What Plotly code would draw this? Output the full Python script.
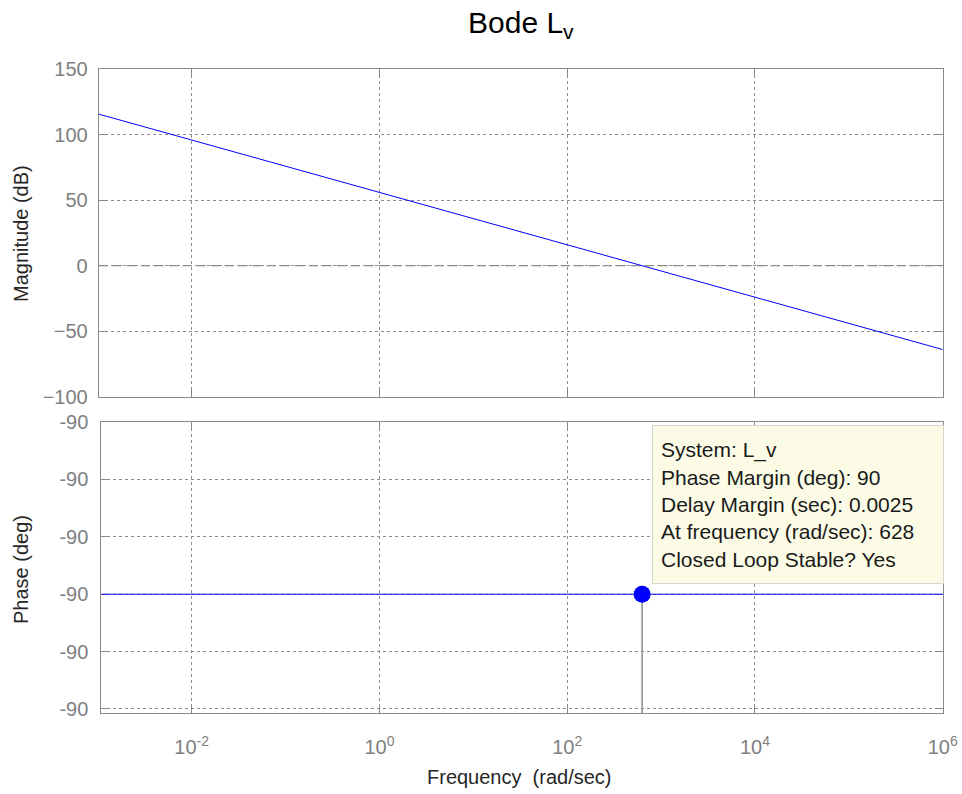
import plotly.graph_objects as go

# Open-loop frequency response of L_v, read at each decade
FREQ = [1e-3, 1e-2, 1e-1, 1e0, 1e1, 1e2, 1e3, 1e4, 1e5, 1e6]          # rad/sec
MAG_DB = [116, 96, 76, 56, 36, 16, -4, -24, -44, -64]                 # dB
PHASE_DEG = [-90, -90, -90, -90, -90, -90, -90, -90, -90, -90]        # deg

# Phase margin point
PM_FREQ = 628          # rad/sec
PM_PHASE = -90         # deg

# Axis ticks
FREQ_TICKS = [1e-2, 1e0, 1e2, 1e4, 1e6]
FREQ_TICK_TEXT = ["10<sup>-2</sup>", "10<sup>0</sup>", "10<sup>2</sup>",
                  "10<sup>4</sup>", "10<sup>6</sup>"]
MAG_TICKS = [-100, -50, 0, 50, 100, 150]
# the phase is flat, so its ticks sit a hair apart around -90
PHASE_STEP = 1e-11
PHASE_TICKS = [-90 + k * PHASE_STEP for k in (-2, -1, 0, 1, 2, 3)]
PHASE_TICK_TEXT = ["-90", "-90", "-90", "-90", "-90", "-90"]

TIP_LINES = [
    "System: L_v",
    "Phase Margin (deg): 90",
    "Delay Margin (sec): 0.0025",
    "At frequency (rad/sec): 628",
    "Closed Loop Stable? Yes",
]

W, H = 962, 794
FONT = "Liberation Sans, Arial, sans-serif"
AXIS_GREY = "#8a8a8a"
GRID_GREY = "#8c8c8c"
LABEL_GREY = "#808080"
BLUE = "#0000ff"


def px_x(p):
    return p / W


def px_y(p):
    return 1 - p / H


fig = go.Figure()

fig.add_trace(go.Scatter(x=FREQ, y=MAG_DB, xaxis="x", yaxis="y", mode="lines",
                         line=dict(color=BLUE, width=1), hoverinfo="skip"))
fig.add_trace(go.Scatter(x=FREQ, y=PHASE_DEG, xaxis="x2", yaxis="y2", mode="lines",
                         line=dict(color=BLUE, width=1), hoverinfo="skip"))

phase_bottom = -90 - 2.075 * PHASE_STEP
phase_top = -90 + 3.005 * PHASE_STEP

# stem from the margin marker down to the frequency axis
fig.add_trace(go.Scatter(x=[PM_FREQ, PM_FREQ], y=[PM_PHASE, -90 - 2.12 * PHASE_STEP],
                         xaxis="x2", yaxis="y2", mode="lines", cliponaxis=False,
                         line=dict(color="#8c8c8c", width=1.5), hoverinfo="skip"))
fig.add_trace(go.Scatter(x=[PM_FREQ], y=[PM_PHASE], xaxis="x2", yaxis="y2", mode="markers",
                         marker=dict(color=BLUE, size=17, line=dict(width=0)),
                         cliponaxis=False, hoverinfo="skip"))

common_axis = dict(
    automargin=False, layer="below traces",
    showline=True, linecolor=AXIS_GREY, linewidth=1, mirror="ticks",
    ticks="inside", ticklen=8, tickcolor=AXIS_GREY, tickwidth=1,
    showgrid=True, gridcolor=GRID_GREY, gridwidth=1, griddash="3px,3px",
    zeroline=False, tickfont=dict(family=FONT, size=20, color=LABEL_GREY),
)

fig.update_layout(
    width=W, height=H,
    margin=dict(l=0, r=0, t=0, b=0, autoexpand=False),
    paper_bgcolor="white", plot_bgcolor="white",
    showlegend=False,
    font=dict(family=FONT),
    xaxis=dict(common_axis, domain=[px_x(98.7), px_x(942.7)], anchor="y", type="log",
               range=[-2.99, 6.0], tickmode="array", tickvals=FREQ_TICKS,
               showticklabels=False),
    yaxis=dict(common_axis, domain=[px_y(396.7), px_y(69.3)], anchor="x",
               range=[-100, 150], tickmode="array", tickvals=MAG_TICKS,
               ticklabelstandoff=6),
    xaxis2=dict(common_axis, domain=[px_x(101.3), px_x(943.3)], anchor="y2", type="log",
                range=[-2.963, 6.006], tickmode="array", tickvals=FREQ_TICKS,
                ticktext=FREQ_TICK_TEXT, ticklabelstandoff=16),
    yaxis2=dict(common_axis, domain=[px_y(713.3), px_y(421.7)], anchor="x2",
                range=[phase_bottom, phase_top], tickmode="array",
                tickvals=PHASE_TICKS, ticktext=PHASE_TICK_TEXT, ticklabelstandoff=8),
)

# 0 dB crossover line
fig.add_shape(type="line", xref="x domain", x0=0, x1=1, yref="y", y0=0, y1=0,
              layer="below", line=dict(color="#6e6e6e", width=1, dash="9px,5px"))

fig.add_annotation(text="Bode L<sub>v</sub>", xref="paper", yref="paper",
                   x=px_x(521), y=px_y(25), xanchor="center", yanchor="middle",
                   showarrow=False, font=dict(family=FONT, size=30, color="#000000"))
fig.add_annotation(text="Magnitude (dB)", xref="paper", yref="paper",
                   x=px_x(21), y=px_y(234), textangle=-90, xanchor="center",
                   yanchor="middle", showarrow=False,
                   font=dict(family=FONT, size=20, color="#262626"))
fig.add_annotation(text="Phase (deg)", xref="paper", yref="paper",
                   x=px_x(21), y=px_y(570), textangle=-90, xanchor="center",
                   yanchor="middle", showarrow=False,
                   font=dict(family=FONT, size=20, color="#262626"))
fig.add_annotation(text="Frequency\u00a0 (rad/sec)", xref="paper", yref="paper",
                   x=px_x(519), y=px_y(777), xanchor="center", yanchor="middle",
                   showarrow=False, font=dict(family=FONT, size=20, color="#262626"))

# data tip for the phase margin
fig.add_annotation(text="<br>".join(TIP_LINES), xref="paper", yref="paper",
                   x=px_x(652), y=px_y(425), xanchor="left", yanchor="top",
                   align="left", valign="middle", width=274, height=141,
                   showarrow=False, bgcolor="#fcfce6", bordercolor="#d6d6d0",
                   borderwidth=1, borderpad=8,
                   font=dict(family=FONT, size=21, color="#1a1a1a"))

fig.write_html("out.html")
